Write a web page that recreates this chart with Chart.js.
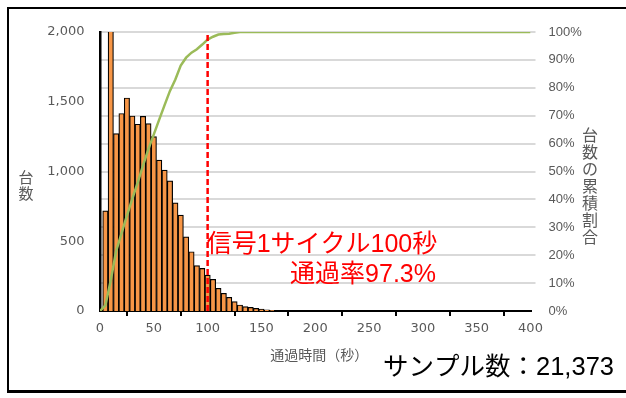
<!DOCTYPE html>
<html><head><meta charset="utf-8">
<script src="https://cdn.jsdelivr.net/npm/chart.js@4/dist/chart.umd.min.js"></script>
<style>
html,body{margin:0;padding:0;background:#fff;}
#wrap{position:relative;width:626px;height:398px;}
canvas{display:block}
</style></head><body>
<div id="wrap"><canvas id="c" width="626" height="398"></canvas></div>
<script>
// ---- data ----
const binSeconds = [5,10,15,20,25,30,35,40,45,50,55,60,65,70,75,80,85,90,95,100,105,110,115,120,125,130,135,140,145,150,155,160];
const vehicleCounts = [718,2450,1272,1416,1527,1398,1339,1396,1344,1250,1081,1010,933,775,687,532,425,325,305,258,227,163,127,98,67,43,31,26,19,14,8,5];
const cumSeconds = [0,5,10,15,20,25,30,35,40,45,50,55,60,65,70,75,80,85,90,95,100,105,110,115,120,125,130,400];
const cumPercent = [0,2,11,21.5,27.8,34.2,40.2,46,52.2,58,63.3,68.6,73.8,78.9,83,88,90.8,92.6,93.8,95.5,97.3,98.3,99.1,99.3,99.4,99.7,100,100];
const xTicks = [0,50,100,150,200,250,300,350,400];
const leftTicks = [0,500,1000,1500,2000];
const rightTicks = [0,10,20,30,40,50,60,70,80,90,100];
const cycleSeconds = 100;
const labelCycle = "信号1サイクル100秒";
const labelRate = "通過率97.3%";
const labelSample = "サンプル数：21,373";
const titleX = "通過時間（秒）";
const titleLeft = "台数";
const titleRight = "台数の累積割合";

const FONT = "'Noto Sans CJK JP','Noto Sans',sans-serif";
const FONT_AN = "'Liberation Sans','Noto Sans CJK JP',sans-serif";
const FONT_TICK = "'DejaVu Sans',sans-serif";
Chart.defaults.font.family = FONT;

const overlay = {
  id: 'overlay',
  beforeDraw(chart){
    const c = chart.ctx; c.save(); c.fillStyle = '#fff'; c.fillRect(0,0,chart.width,chart.height); c.restore();
  },
  afterDatasetsDraw(chart){
    const {ctx, scales:{x, yL}} = chart;
    const px = x.getPixelForValue(cycleSeconds);
    ctx.save();
    ctx.strokeStyle = '#FF0000'; ctx.lineWidth = 2.5; ctx.setLineDash([6,3]);
    ctx.beginPath(); ctx.moveTo(px, yL.getPixelForValue(0)); ctx.lineTo(px, yL.getPixelForValue(2000)); ctx.stroke();
    ctx.restore();
  },
  afterDraw(chart){
    const {ctx, chartArea, scales:{x}} = chart;
    ctx.save();
    // frame
    ctx.strokeStyle = '#000'; ctx.lineWidth = 2;
    ctx.beginPath(); ctx.moveTo(626, 8); ctx.lineTo(8, 8); ctx.lineTo(8, 392); ctx.stroke();
    ctx.lineWidth = 3; ctx.beginPath(); ctx.moveTo(7, 391.5); ctx.lineTo(626, 391.5); ctx.stroke();
    // annotations
    const px = x.getPixelForValue(cycleSeconds);
    ctx.fillStyle = '#FF0000'; ctx.font = "25px " + FONT_AN; ctx.textBaseline = 'middle';
    ctx.textAlign = 'left'; ctx.fillText(labelCycle, px - 1, 245);
    ctx.textAlign = 'right'; ctx.fillText(labelRate, 436, 275);
    ctx.fillStyle = '#000'; ctx.font = "25.5px " + FONT_AN; ctx.textAlign = 'left'; ctx.fillText(labelSample, 383, 368);
    // axis titles
    ctx.fillStyle = '#595959'; ctx.textAlign = 'center';
    ctx.font = "14px " + FONT; ctx.fillText(titleX, (chartArea.left + chartArea.right)/2 + 4, 355);
    ctx.font = "15px " + FONT;
    [...titleLeft].forEach((ch,i)=> ctx.fillText(ch, 26, 177 + i*16));
    ctx.font = "16px " + FONT;
    [...titleRight].forEach((ch,i)=> ctx.fillText(ch, 590, 135 + i*17));
    ctx.restore();
  }
};

new Chart(document.getElementById('c'), {
  data: {
    datasets: [
      { type:'line', label:'累積割合', yAxisID:'yR', order:0,
        data: cumSeconds.map((t,i)=>({x:t, y:cumPercent[i]})),
        borderColor:'#9BBB59', borderWidth:2.5, pointRadius:0, tension:0 },
      { type:'bar', label:'台数', yAxisID:'yL', order:1, clip:0,
        data: binSeconds.map((t,i)=>({x:t, y:vehicleCounts[i]})),
        backgroundColor:'#F79646', borderColor:'#000', borderWidth:1.2,
        barPercentage:1, categoryPercentage:1 }
    ]
  },
  options: {
    responsive:false, animation:false,
    layout:{ padding:{ top:32, right:0, bottom:0, left:0 } },
    plugins:{ legend:{display:false}, tooltip:{enabled:false} },
    scales:{
      x:{ type:'linear', position:'bottom', min:0, max:400, offset:false,
          afterBuildTicks(s){ s.ticks = xTicks.map(v=>({value:v})); },
          ticks:{ color:'#595959', font:{size:13, family:FONT_TICK}, padding:5, maxRotation:0, autoSkip:false },
          grid:{ drawOnChartArea:false, drawTicks:true, tickLength:5, color:'#000', lineWidth:2 },
          border:{ display:true, color:'#000', width:2 },
          afterFit(s){ s.height = 87; } },
      yL:{ type:'linear', position:'left', min:0, max:2000,
          afterBuildTicks(s){ s.ticks = leftTicks.map(v=>({value:v})); },
          ticks:{ color:'#595959', font:{size:13, family:FONT_TICK}, padding:15.5, callback:v=>v.toLocaleString('en-US') },
          grid:{ display:false, drawTicks:false },
          border:{ display:true, color:'#000', width:2.5 },
          afterFit(s){ s.width = 100; } },
      yR:{ type:'linear', position:'right', min:0, max:100,
          afterBuildTicks(s){ s.ticks = rightTicks.map(v=>({value:v})); },
          ticks:{ color:'#595959', font:{size:13, family:"'Liberation Sans',sans-serif"}, padding:13, callback:v=>v+'%' },
          grid:{ drawOnChartArea:true, drawTicks:true, tickLength:5, lineWidth:2,
                 color:c=> (c.tick && c.tick.value===0) ? 'rgba(0,0,0,0)' : '#d9d9d9' },
          border:{ display:false },
          afterFit(s){ s.width = 95.5; } }
    }
  },
  plugins:[overlay]
});
</script>
</body></html>
